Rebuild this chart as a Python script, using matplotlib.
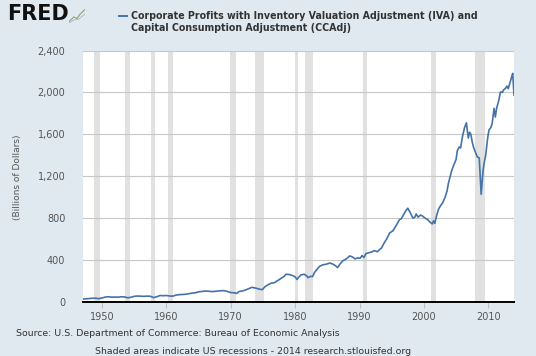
import matplotlib
matplotlib.use("Agg")
import matplotlib.pyplot as plt
from matplotlib.ticker import FuncFormatter, FixedLocator

# ---- data ----
years = [1947.0, 1947.5, 1948.0, 1948.5, 1949.0, 1949.5, 1950.0, 1950.5, 1951.0, 1951.5,
         1952.0, 1952.5, 1953.0, 1953.5, 1954.0, 1954.5, 1955.0, 1955.5, 1956.0, 1956.5,
         1957.0, 1957.5, 1958.0, 1958.5, 1959.0, 1959.5, 1960.0, 1960.5, 1961.0, 1961.5,
         1962.0, 1962.5, 1963.0, 1963.5, 1964.0, 1964.5, 1965.0, 1965.5, 1966.0, 1966.5,
         1967.0, 1967.5, 1968.0, 1968.5, 1969.0, 1969.5, 1970.0, 1970.5, 1970.9, 1971.3,
         1971.8, 1972.3, 1972.9, 1973.3, 1973.9, 1974.5, 1974.9, 1975.3, 1975.8, 1976.3,
         1976.8, 1977.3, 1977.8, 1978.3, 1978.6, 1979.1, 1979.6, 1980.0, 1980.3, 1980.6,
         1980.9, 1981.4, 1981.8, 1982.0, 1982.4, 1982.7, 1983.0, 1983.5, 1983.8, 1984.3,
         1984.8, 1985.4, 1985.9, 1986.3, 1986.6, 1987.0, 1987.4, 1987.9, 1988.5, 1988.9,
         1989.3, 1989.7, 1990.1, 1990.4, 1990.7, 1991.0, 1991.4, 1991.8, 1992.3, 1992.8,
         1993.1, 1993.4, 1993.8, 1994.2, 1994.7, 1995.2, 1995.7, 1996.2, 1996.5, 1996.9,
         1997.3, 1997.5, 1997.9, 1998.3, 1998.6, 1998.8, 1999.1, 1999.5, 1999.8, 2000.2,
         2000.6, 2000.9, 2001.3, 2001.5, 2001.7, 2002.0, 2002.3, 2002.6, 2002.9, 2003.3,
         2003.6, 2003.8, 2004.1, 2004.3, 2004.6, 2004.8, 2005.0, 2005.2, 2005.5, 2005.7,
         2006.0, 2006.3, 2006.6, 2006.9, 2007.1, 2007.3, 2007.5, 2007.7, 2008.0, 2008.3,
         2008.6, 2008.9, 2009.2, 2009.4, 2009.6, 2009.9, 2010.1, 2010.4, 2010.6, 2010.9,
         2011.1, 2011.3, 2011.6, 2011.9, 2012.2, 2012.4, 2012.7, 2012.9, 2013.1, 2013.4,
         2013.6, 2013.8, 2014.0]
profits = [28, 30, 33, 36, 36, 32, 38, 47, 50, 46,
           47, 46, 50, 48, 40, 45, 54, 57, 56, 54,
           56, 55, 42, 50, 62, 60, 62, 57, 56, 66,
           70, 72, 74, 80, 85, 88, 97, 100, 104, 103,
           100, 101, 105, 108, 108, 100, 90, 88, 82, 100,
           105, 115, 130, 140, 132, 122, 118, 145, 165, 180,
           185, 205, 225, 245, 265, 262, 252, 240, 215, 240,
           258, 265, 250, 232, 245, 242, 280, 320, 340, 355,
           360, 372, 360, 345, 328, 365, 393, 410, 440, 430,
           412, 420, 418, 443, 425, 462, 470, 475, 490, 480,
           500, 513, 560, 600, 660, 680, 730, 785, 795, 840,
           880, 895, 850, 800, 810, 840, 810, 830, 820, 800,
           785, 765, 745, 775, 750, 830, 890, 920, 945, 1000,
           1060, 1130, 1200, 1250, 1300, 1330, 1360, 1445, 1480, 1470,
           1580, 1660, 1710, 1565, 1620, 1600, 1530, 1480, 1430, 1385,
           1375, 1028, 1260, 1340, 1400, 1560, 1640, 1665, 1700, 1848,
           1765, 1850, 1915, 2005, 2000, 2025, 2040, 2060, 2035, 2100,
           2140, 2182, 1975]

recession_start = [1948.83, 1953.50, 1957.58, 1960.25, 1969.92, 1973.83, 1980.00,
                   1981.50, 1990.50, 2001.17, 2007.92]
recession_end = [1949.75, 1954.33, 1958.25, 1961.08, 1970.83, 1975.17, 1980.50,
                 1982.83, 1991.17, 2001.83, 2009.42]

x_ticks = [1950, 1960, 1970, 1980, 1990, 2000, 2010]
y_ticks = [0, 400, 800, 1200, 1600, 2000, 2400]

title_lines = ["Corporate Profits with Inventory Valuation Adjustment (IVA) and",
               "Capital Consumption Adjustment (CCAdj)"]
y_label = "(Billions of Dollars)"
source_text = "Source: U.S. Department of Commerce: Bureau of Economic Analysis"
note_text = "Shaded areas indicate US recessions - 2014 research.stlouisfed.org"

# ---- style ----
BG = "#e1e9f0"
LINE = "#4572a7"
SHADE = "#e1e1e1"
TXT = "#555555"
DARK = "#333333"

fig = plt.figure(figsize=(5.36, 3.56), dpi=100, facecolor=BG)
ax = fig.add_axes([82.7 / 536, (356 - 302) / 356, 431.3 / 536, 251.5 / 356])
ax.set_facecolor("white")

for s, e in zip(recession_start, recession_end):
    ax.axvspan(s, e, color=SHADE, lw=0, zorder=1)

ax.yaxis.set_major_locator(FixedLocator(y_ticks))
ax.xaxis.set_major_locator(FixedLocator(x_ticks))
ax.grid(axis="y", color="#c8c8c8", lw=0.8, zorder=2)
ax.set_axisbelow(False)

ax.plot(years, profits, color=LINE, lw=1.2, zorder=3, solid_joinstyle="round")

ax.set_xlim(1947.0, 2014.0)
ax.set_ylim(0, 2400)

for side in ["top", "right", "left"]:
    ax.spines[side].set_visible(False)
ax.spines["bottom"].set_color("black")
ax.spines["bottom"].set_linewidth(1.4)
ax.spines["bottom"].set_zorder(4)

ax.yaxis.set_major_formatter(FuncFormatter(lambda v, p: f"{int(v):,}"))
ax.tick_params(axis="y", length=0, pad=12.5, labelsize=7, labelcolor=TXT)
ax.tick_params(axis="x", length=4, color="#c0c0c0", width=0.8, pad=3,
               labelsize=7, labelcolor=TXT)

fig.text(18 / 536, 1 - 177 / 356, y_label, rotation=90, ha="center", va="center",
         fontsize=6.5, color=TXT)

# header
fig.text(7 / 536, 1 - 14 / 356, "FRED", fontsize=15, fontweight="black",
         color="#111111", ha="left", va="center")
icon = fig.add_axes([69 / 536, 1 - 23 / 356, 16 / 536, 15 / 356])
icon.set_facecolor(BG)
icon.plot([0, 0.3, 0.5, 0.7, 1.0], [0.1, 0.4, 0.3, 0.6, 0.9], color="#8aa37a", lw=0.8)
icon.plot([0, 0.3, 0.6, 1.0], [0.0, 0.2, 0.25, 0.6], color="#aab5c4", lw=0.6)
icon.set_xlim(0, 1)
icon.set_ylim(0, 1)
icon.axis("off")

fig.lines.append(plt.Line2D([119 / 536, 127 / 536], [1 - 16 / 356, 1 - 16 / 356],
                            transform=fig.transFigure, color=LINE, lw=1.4))
fig.text(131 / 536, 1 - 16 / 356, title_lines[0], fontsize=6.85, fontweight="bold",
         color=DARK, ha="left", va="center")
fig.text(131 / 536, 1 - 28 / 356, title_lines[1], fontsize=6.85, fontweight="bold",
         color=DARK, ha="left", va="center")

# footer
fig.text(16 / 536, 1 - 334 / 356, source_text, fontsize=6.75, color=DARK,
         ha="left", va="center")
fig.text(95 / 536, 1 - 351 / 356, note_text, fontsize=6.75, color=DARK,
         ha="left", va="center")

fig.savefig("out.png", dpi=100, facecolor=BG)
